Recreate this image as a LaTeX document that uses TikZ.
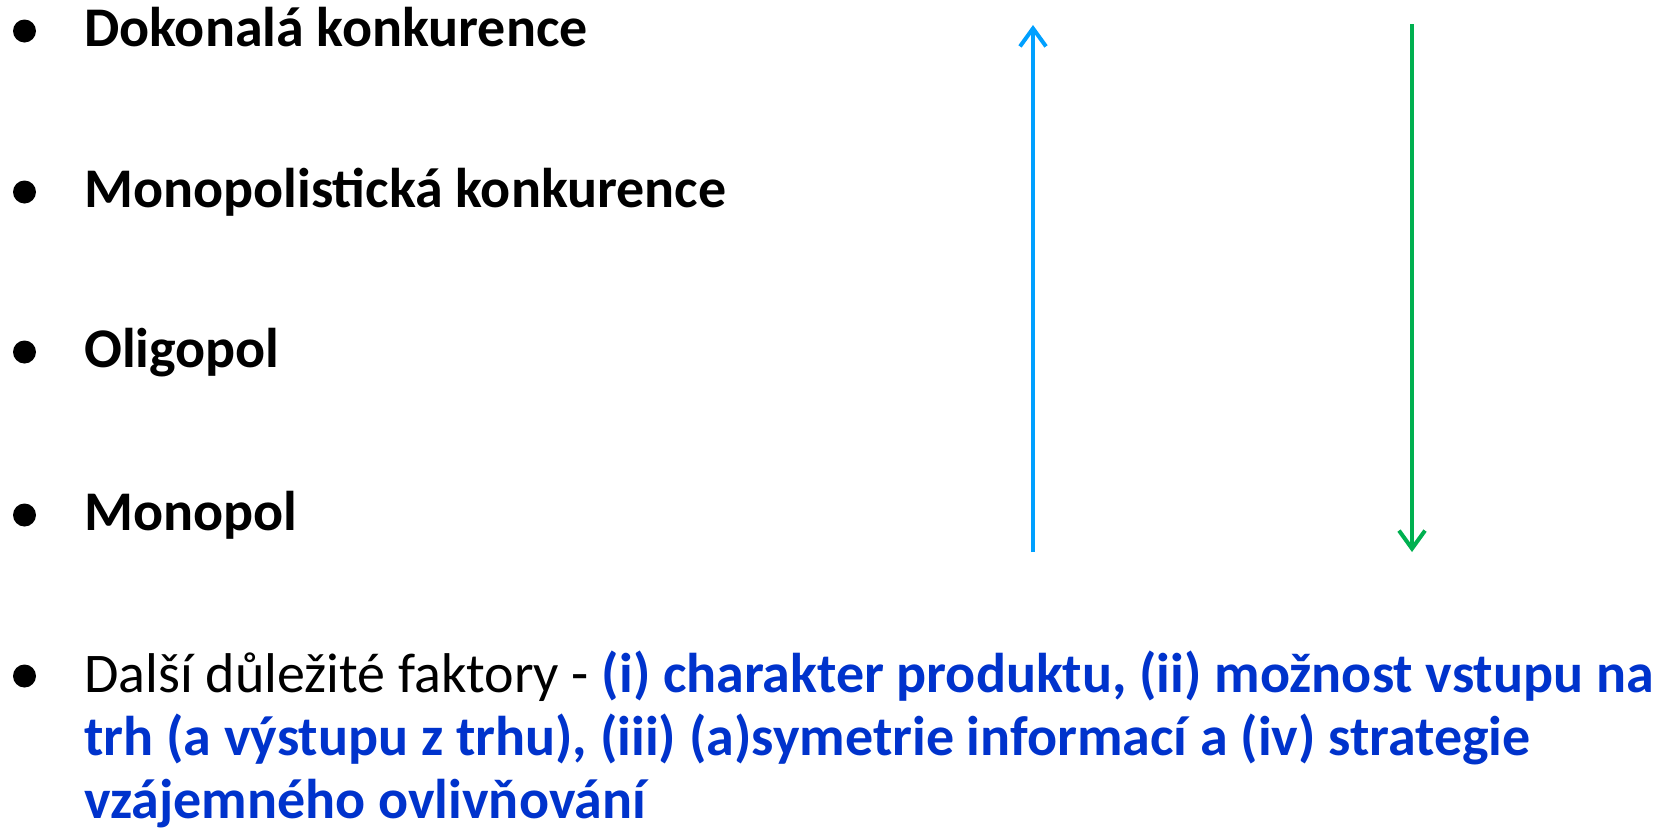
\documentclass[tikz,border=0pt]{standalone}
\usepackage{fontspec}
\setmainfont{Carlito}
\usetikzlibrary{arrows.meta}
\definecolor{txtblue}{RGB}{0,51,204}
\definecolor{arrblue}{RGB}{0,160,255}
\definecolor{arrgreen}{RGB}{0,176,80}
\tikzset{
  item/.style={anchor=base west, inner sep=0pt, font=\fontsize{56}{62}\selectfont\bfseries},
  fline/.style={anchor=base west, inner sep=0pt, font=\fontsize{56}{62}\selectfont},
  arr/.style={line width=4pt, -{Straight Barb[length=18pt,width=26pt]}},
}
\newcommand{\bdot}[2]{\fill[black] (#1,#2) circle (11.5pt);}
\begin{document}
\begin{tikzpicture}[x=1pt,y=-1pt]
\useasboundingbox (0,0) rectangle (1675,836);
\fill[white] (0,0) rectangle (1675,836);
\node[item] (i1) at (84,46) {Dokonalá konkurence};
\node[item] (i2) at (84,207) {Monopolistická konkurence};
\node[item] (i3) at (84,367) {Oligopol};
\node[item] (i4) at (84,530) {Monopol};
\bdot{24.5}{31}
\bdot{24.5}{192}
\bdot{24.5}{352}
\bdot{24.5}{515}
\node[fline] (f1) at (84,692)
 {Další důležité faktory - \textcolor{txtblue}{\bfseries (i) charakter produktu, (ii) možnost vstupu na}};
\node[fline, text=txtblue, font=\fontsize{56}{62}\selectfont\bfseries] (f2) at (84,755)
 {trh (a výstupu z trhu), (iii) (a)symetrie informací a (iv) strategie};
\node[fline, text=txtblue, font=\fontsize{56}{62}\selectfont\bfseries] (f3) at (84,818)
 {vzájemného ovlivňování};
\bdot{24.5}{676}
\coordinate (bS) at (1033,552);
\coordinate (bE) at (1033,25);
\coordinate (gS) at (1412,24);
\coordinate (gE) at (1412,552);
\draw[arr, arrblue] (bS) -- (bE);
\draw[arr, arrgreen] (gS) -- (gE);
\end{tikzpicture}
\end{document}
